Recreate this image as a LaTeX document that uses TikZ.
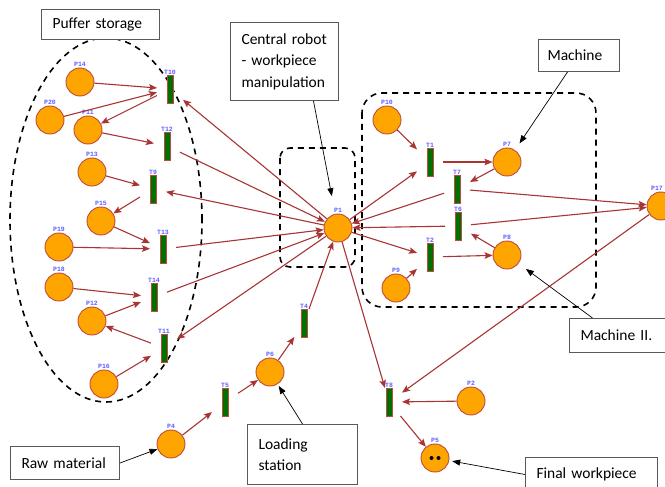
\documentclass[tikz,border=0pt]{standalone}
\usepackage{fontspec}
\setmainfont{Carlito}
\newfontfamily\lblfont{Liberation Mono}
\usetikzlibrary{arrows.meta}

\definecolor{arcred}{RGB}{168,52,52}
\definecolor{placefill}{RGB}{255,165,0}
\definecolor{placeedge}{RGB}{190,75,60}
\definecolor{transfill}{RGB}{0,112,0}
\definecolor{lblblue}{RGB}{95,95,255}

\tikzset{
  place/.style={circle, draw=placeedge, fill=placefill, line width=0.9pt,
    minimum size=28pt, inner sep=0pt},
  trans/.style={rectangle, draw=placeedge, fill=transfill, line width=0.9pt,
    minimum width=6pt, minimum height=28pt, inner sep=0pt,
    outer xsep=10pt, outer ysep=0pt},
  lbl/.style={font=\lblfont\bfseries\fontsize{6.5}{6.5}\selectfont, text=lblblue,
    inner sep=0.5pt},
  arc/.style={draw=arcred, line width=1.1pt,
    -{Stealth[length=8pt,width=6.5pt,inset=1.5pt]}},
  region/.style={draw=black, line width=1.6pt, dash pattern=on 6pt off 5pt},
  note/.style={draw=black!65, line width=1pt, fill=white,
    font=\fontsize{15.5}{21.5}\selectfont, align=left, inner xsep=11pt,
    inner ysep=0pt, anchor=north west},
  pointer/.style={draw=black, line width=0.7pt,
    -{Triangle[length=8pt,width=6pt]}}
}

\begin{document}
\begin{tikzpicture}[x=1pt, y=-1pt]
  \fill[white] (0,0) rectangle (665,487);
  \useasboundingbox (0,0) rectangle (665,487);

  % dashed groupings
  \draw[region] (106,220) ellipse [x radius=96pt, y radius=182pt];
  \draw[region, rounded corners=10pt] (280,148) rectangle (355,267);
  \draw[region, rounded corners=20pt] (362,93) rectangle (596,307);

  % places
  \foreach \n/\x/\y in {P14/80/82, P20/50/120, P11/88/130, P13/92/172,
      P15/101/221, P19/59/247, P18/59/287, P12/92/321, P16/104/384,
      P1/338/228, P6/270/372, P4/171/444, P2/471/401, P5/435/458,
      P10/387/120, P7/507/162, P8/507/255, P9/396/288}
    \node[place, label={[lbl]above:\n}] (\n) at (\x,\y) {};
  \node[place, label={[lbl, xshift=-4pt]above:P17}] (P17) at (661,206) {};

  % tokens
  \fill ([xshift=-3.5pt]P5.center) circle (2pt);
  \fill ([xshift=3.5pt]P5.center) circle (2pt);

  % transitions
  \foreach \n/\x/\y in {T10/170/89, T12/167/146, T9/153/189, T13/163/249,
      T14/154/297, T11/164/348, T4/304/323, T5/225/402, T8/389/402,
      T1/430/162, T7/457/189, T6/458/226, T2/430/257}
    \node[trans, label={[lbl]above:\n}] (\n) at (\x,\y) {};

  % buffer storage arcs
  \draw[arc] (P14) -- (T10);
  \draw[arc] (P20) -- (T10);
  \draw[arc] (T10) -- (P11);
  \draw[arc] (P11) -- (T12);
  \draw[arc] (P13) -- (T9);
  \draw[arc] (T9) -- (P15);
  \draw[arc] (P15) -- (T13);
  \draw[arc] (P19) -- (T13);
  \draw[arc] (P18) -- (T14);
  \draw[arc] (P12) -- (T14);
  \draw[arc] (T11) -- (P12);
  \draw[arc] (P16) -- (T11);

  % robot arcs
  \draw[arc] (P1) -- (T10);
  \draw[arc] (T12) -- (P1);
  \draw[arc] (P1) -- (T9);
  \draw[arc] (T13) -- (P1);
  \draw[arc] (T14) -- (P1);
  \draw[arc] (P1) -- (T11);

  % loading line
  \draw[arc] (P4) -- (T5);
  \draw[arc] (T5) -- (P6);
  \draw[arc] (P6) -- (T4);
  \draw[arc] (T4) -- (P1);

  % machines
  \draw[arc] (P10) -- (T1);
  \draw[arc] (P1) -- (T1);
  \draw[arc] (T1) -- (P7);
  \draw[arc] (P7) -- (T7);
  \draw[arc] (T7) -- (P1);
  \draw[arc] (T6) -- (P1);
  \draw[arc] (P1) -- (T2);
  \draw[arc] (P9) -- (T2);
  \draw[arc] (T2) -- (P8);
  \draw[arc] (P8) -- (T6);
  \draw[arc] (T7) -- (P17);
  \draw[arc] (T6) -- (P17);

  % unloading
  \draw[arc] (P1) -- (T8);
  \draw[arc] (P17) -- (T8);
  \draw[arc] (P2) -- (T8);
  \draw[arc] (T8) -- (P5);

  % annotation boxes
  \node[note, minimum width=118pt, minimum height=30pt, text width=96pt]
    (puffer) at (41,9) {Puffer storage};
  \node[note, minimum width=108pt, minimum height=78pt, text width=86pt]
    (robot) at (230,22) {Central robot\\- workpiece\\manipulation};
  \node[note, minimum width=81pt, minimum height=32pt, text width=63pt,
    inner xsep=9pt] (machine) at (538,39) {Machine};
  \node[note, minimum width=97pt, minimum height=34pt, text width=75pt]
    (machineII) at (569,318) {Machine II.};
  \node[note, minimum width=109pt, minimum height=33pt, text width=87pt]
    (raw) at (10,446) {Raw material};
  \node[note, minimum width=110pt, minimum height=60pt, text width=88pt]
    (loading) at (247,424) {Loading\\station};
  \node[note, minimum width=132pt, minimum height=34pt, text width=110pt]
    (final) at (525,457) {Final workpiece};

  % pointers
  \draw[pointer, shorten >=18pt] ([xshift=29pt]robot.south) -- (P1);
  \draw[pointer, shorten >=8pt] ([xshift=-11.5pt]machine.south) -- (P7);
  \draw[pointer, shorten >=9pt] ([xshift=-25.5pt]machineII.north) -- (P8);
  \draw[pointer] (raw.east) -- (P4);
  \draw[pointer, shorten >=2pt] (loading.north) -- (P6);
  \draw[pointer, shorten >=3pt] (final.west) -- (P5);
\end{tikzpicture}
\end{document}
